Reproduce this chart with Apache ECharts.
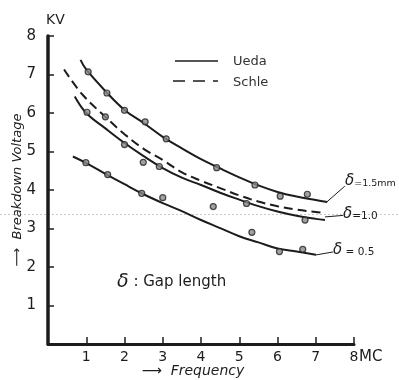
<!DOCTYPE html>
<html>
<head>
<meta charset="utf-8">
<script src="https://cdn.jsdelivr.net/npm/echarts@6/dist/echarts.min.js"></script>
<style>html,body{margin:0;padding:0;background:#fff}#c{width:399px;height:380px}</style>
</head>
<body>
<div id="c"></div>
<script>
// Frequency (MC) vs Breakdown voltage (KV)
const xTicks = [1, 2, 3, 4, 5, 6, 7, 8];
const yTicks = [1, 2, 3, 4, 5, 6, 7, 8];

// Ueda curves (solid)
const ueda15 = [[0.85,7.38],[1,7.13],[1.5,6.57],[2,6.08],[2.5,5.74],[3,5.38],[3.5,5.08],[4,4.8],[4.5,4.56],[5,4.33],[5.5,4.12],[6,3.95],[6.5,3.83],[7,3.74],[7.3,3.69]];
const ueda10 = [[0.7,6.43],[1,6.0],[1.5,5.6],[2,5.22],[2.5,4.88],[3,4.57],[3.5,4.32],[4,4.13],[4.5,3.93],[5,3.75],[5.5,3.58],[6,3.44],[6.5,3.33],[7,3.25],[7.24,3.22]];
const ueda05 = [[0.65,4.87],[1,4.7],[1.5,4.42],[2,4.15],[2.5,3.89],[3,3.66],[3.5,3.45],[4,3.22],[4.5,3.01],[5,2.8],[5.5,2.64],[6,2.48],[6.5,2.4],[7,2.32]];
// Schle curve (dashed)
const schle10 = [[0.42,7.13],[0.9,6.48],[1.5,5.9],[2,5.45],[2.5,5.07],[3,4.78],[3.5,4.46],[4,4.24],[4.5,4.05],[5,3.86],[5.5,3.7],[6,3.58],[6.5,3.49],[7,3.43],[7.2,3.41]];

// Measured points
const pts15 = [[1.05,7.07],[1.54,6.52],[2.0,6.07],[2.54,5.77],[3.09,5.33],[4.41,4.58],[5.41,4.13],[6.07,3.84],[6.78,3.89]];
const pts10 = [[1.02,6.02],[1.5,5.9],[2.0,5.18],[2.49,4.72],[2.91,4.61],[5.19,3.65],[6.72,3.22]];
const pts05 = [[0.99,4.71],[1.56,4.4],[2.45,3.91],[3.0,3.8],[4.32,3.57],[5.33,2.9],[6.05,2.4],[6.66,2.46]];

// Curve label leader lines: [from, to] in data coords
const lab15 = [[7.29,3.69],[7.76,4.1]];
const lab10 = [[7.24,3.3],[7.71,3.34]];
const lab05 = [[6.98,2.31],[7.45,2.39]];
const labelTexts = ['=1.5mm', '=1.0', ' = 0.5'];
const legendNames = ['Ueda', 'Schle'];

const ink = '#1c1c1c';
const FONT = 'DejaVu Sans';

function leader(pair) {
  return {
    silent: true, symbol: ['none','none'], animation: false,
    lineStyle: {color: ink, width: 1, type: 'solid'},
    label: {show: false},
    data: [[{coord: pair[0]}, {coord: pair[1]}]]
  };
}

function curve(name, data, dashed, ml) {
  const s = {name: name, type: 'line', data: data, smooth: 0.4, symbol: 'none',
    lineStyle: {color: ink, width: 2, type: dashed ? [9,5] : 'solid'}, z: 3};
  if (ml) s.markLine = ml;
  return s;
}
function pts(data) {
  return {name: 'Measured', type: 'scatter', data: data, symbol: 'circle', symbolSize: 6,
    itemStyle: {color: '#8a8a8a', borderColor: '#222', borderWidth: 1.2}, z: 4};
}
function deltaText(left, cy, txt, fs) {
  return {type: 'text', left: left, top: cy - 14, style: {
    text: '{d|δ}{t|' + txt + '}',
    rich: {d: {fontSize: 15, fontFamily: FONT, fontStyle: 'italic', fill: ink, verticalAlign: 'bottom'},
           t: {fontSize: fs, fontFamily: FONT, fill: ink, verticalAlign: 'bottom'}}}};
}

const chart = echarts.init(document.getElementById('c'), null, {renderer: 'canvas'});
chart.setOption({
  animation: false,
  backgroundColor: '#fff',
  grid: {left: 48, right: 45, top: 36, bottom: 36, containLabel: false, outerBoundsMode: 'none'},
  xAxis: {
    type: 'value', min: 0, max: 8, interval: 1,
    name: '⟶  Frequency', nameLocation: 'middle', nameGap: 20, nameMoveOverlap: false,
    nameTextStyle: {fontFamily: FONT, fontSize: 14, fontStyle: 'italic', color: ink, padding: [0,16,0,0]},
    axisLine: {show: true, lineStyle: {color: ink, width: 3}},
    axisTick: {show: true, inside: true, length: 7, lineStyle: {color: ink, width: 1.5}},
    axisLabel: {margin: 6, fontFamily: FONT, fontSize: 14, color: ink,
      formatter: v => xTicks.includes(v) ? String(v) : ''},
    splitLine: {show: false}
  },
  yAxis: {
    type: 'value', min: 0, max: 8, interval: 1,
    name: '⟶  Breakdown Voltage', nameLocation: 'middle', nameGap: 24, nameMoveOverlap: false,
    nameTextStyle: {fontFamily: FONT, fontSize: 13, fontStyle: 'italic', color: ink},
    axisLine: {show: true, lineStyle: {color: ink, width: 3.5}},
    axisTick: {show: true, inside: true, length: 6, lineStyle: {color: ink, width: 1.5}},
    axisLabel: {margin: 12, fontFamily: FONT, fontSize: 15, color: ink,
      formatter: v => yTicks.includes(v) ? String(v) : ''},
    splitLine: {show: false}
  },
  graphic: [
    {type: 'text', left: 46, top: 13, style: {text: 'KV', font: '14px "DejaVu Sans"', fill: ink}},
    {type: 'text', left: 359, top: 350, style: {text: 'MC', font: '15px "DejaVu Sans"', fill: ink}},
    {type: 'text', left: 117, top: 273, style: {
      text: '{d|δ} : Gap length',
      rich: {d: {fontSize: 19, fontFamily: FONT, fontStyle: 'italic', fill: ink}},
      font: '15px "DejaVu Sans"', fill: ink}},
    // legend
    {type: 'line', silent: true, shape: {x1: 175, y1: 61, x2: 218, y2: 61}, style: {stroke: ink, lineWidth: 1.6}},
    {type: 'line', silent: true, shape: {x1: 173, y1: 81, x2: 218, y2: 81}, style: {stroke: ink, lineWidth: 1.6, lineDash: [12,8]}},
    {type: 'text', left: 233, top: 55, style: {text: legendNames[0], font: '13px "DejaVu Sans"', fill: '#333'}},
    {type: 'text', left: 233, top: 76, style: {text: legendNames[1], font: '13px "DejaVu Sans"', fill: '#333'}},
    // curve labels
    deltaText(345, 188, labelTexts[0], 9.5),
    deltaText(343, 221, labelTexts[1], 10.5),
    deltaText(333, 257, labelTexts[2], 10.5),
    {type: 'line', silent: true, z: -1, shape: {x1: 0, y1: 214.5, x2: 399, y2: 214.5},
      style: {stroke: '#c8c8c8', lineWidth: 1, lineDash: [2,2]}}
  ],
  series: [
    curve('Ueda', ueda15, false, leader(lab15)),
    curve('Schle', schle10, true),
    curve('Ueda', ueda10, false, leader(lab10)),
    curve('Ueda', ueda05, false, leader(lab05)),
    pts(pts15), pts(pts10), pts(pts05)
  ]
});
</script>
</body>
</html>
